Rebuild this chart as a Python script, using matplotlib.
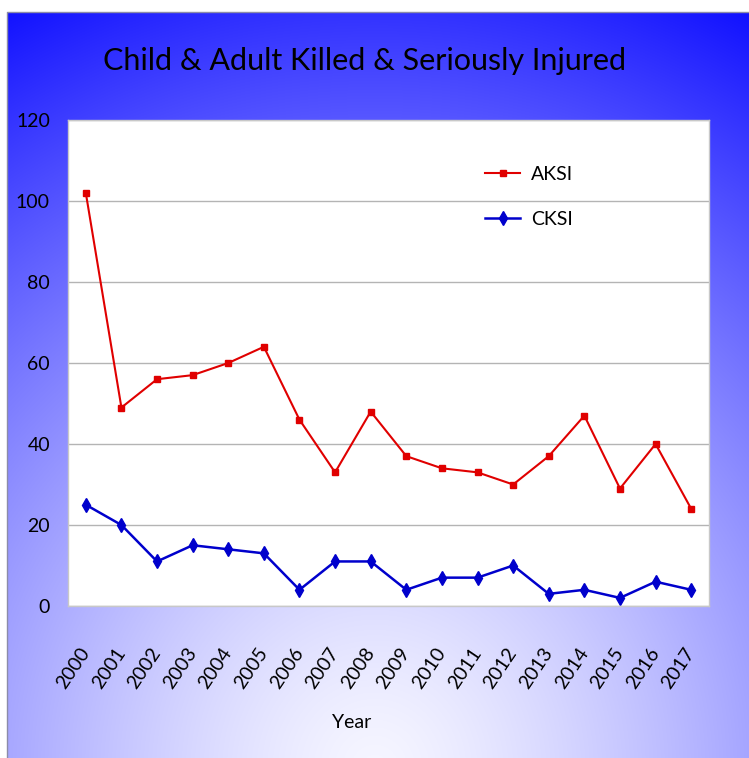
import matplotlib
matplotlib.use('Agg')
import matplotlib.pyplot as plt
import matplotlib.transforms as mtransforms
import numpy as np

years = [str(y) for y in range(2000, 2018)]
aksi = [102, 49, 56, 57, 60, 64, 46, 33, 48, 37, 34, 33, 30, 37, 47, 29, 40, 24]
cksi = [25, 20, 11, 15, 14, 13, 4, 11, 11, 4, 7, 7, 10, 3, 4, 2, 6, 4]
y_ticks = [0, 20, 40, 60, 80, 100, 120]

FONT = ['Lato', 'DejaVu Sans']
W, H = 749, 758

fig = plt.figure(figsize=(W / 100, H / 100), dpi=100)
fig.patch.set_facecolor('white')

# slide background: blue wash fading to near-white at the bottom centre
bg = fig.add_axes([0, 0, 1, 1], zorder=-1)
gx, gy = np.meshgrid(np.arange(7, W) + 0.5, np.arange(12, H) + 0.5)
r = np.sqrt(((gx - 375) / 820) ** 2 + ((gy - 770) / 860) ** 2)
t = np.clip(r, 0, 1) ** 1.35
rg = (246 * (1 - t) + 14 * t) / 255
img = np.dstack([rg, rg, np.ones_like(rg)])
bg.imshow(img, extent=(7, W, H, 12), aspect='auto', interpolation='bilinear')
bg.plot([7, 7, W], [H, 12, 12], color='#8c8ca8', lw=1)
bg.set_xlim(0, W)
bg.set_ylim(H, 0)
bg.axis('off')

# chart area
ax = fig.add_axes([68 / W, 1 - 606 / H, (709 - 68) / W, (606 - 120) / H])
ax.set_facecolor('white')
x = np.arange(len(years))
ax.plot(x, aksi, color='#e00000', lw=1.5, marker='s', ms=5, label='AKSI')
ax.plot(x, cksi, color='#0000cc', lw=1.8, marker='d', ms=7, label='CKSI')

ax.set_xlim(-0.5, len(years) - 0.5)
ax.set_ylim(0, 120)
ax.set_yticks(y_ticks)
ax.set_yticklabels([str(v) for v in y_ticks], fontsize=14, family=FONT)
ax.yaxis.grid(True, color='#b4b4b4', lw=1)
ax.set_axisbelow(True)
for sp in ax.spines.values():
    sp.set_color('#c8c8c8')
    sp.set_linewidth(1)

ax.set_xticks(x)
ax.set_xticklabels(years, rotation=56, ha='right', va='center',
                   rotation_mode='anchor', fontsize=14, family=FONT)
shift = mtransforms.ScaledTranslation(8.5 / 72, 0, fig.dpi_scale_trans)
for lab in ax.get_xticklabels():
    lab.set_transform(lab.get_transform() + shift)
ax.tick_params(axis='x', length=0, pad=31)
ax.tick_params(axis='y', length=0, pad=13)

ax.set_xlabel('Year', fontsize=14, family=FONT)
ax.xaxis.set_label_coords((352 - 68) / 641, (606 - 723) / 486)
ax.xaxis.label.set_va('center')

ax.legend(loc='upper left', bbox_to_anchor=(485 / W, 1 - 166 / H),
          bbox_transform=fig.transFigure, frameon=False,
          prop={'family': FONT, 'size': 14}, handlelength=1.8,
          handletextpad=0.57, labelspacing=1.45, borderpad=0,
          borderaxespad=0)

fig.text(365 / W, 1 - 70 / H, 'Child & Adult Killed & Seriously Injured',
         ha='center', va='baseline', fontsize=22, family=FONT)

fig.savefig('out.png', dpi=100)
